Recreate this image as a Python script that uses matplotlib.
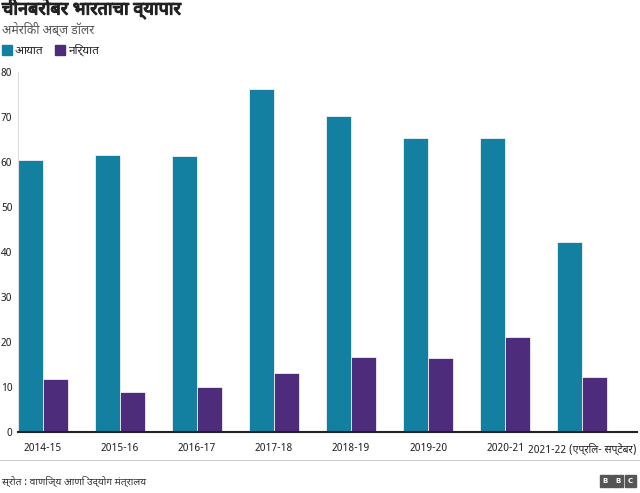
import numpy as np
import matplotlib.pyplot as plt
import matplotlib.patheffects as pe
from matplotlib import font_manager

# data
years = ["2014-15", "2015-16", "2016-17", "2017-18", "2018-19",
         "2019-20", "2020-21", "2021-22 (एप्रिल- सप्टेंबर)"]
imports = [60.4, 61.6, 61.3, 76.2, 70.2, 65.3, 65.3, 42.2]
exports = [11.8, 8.9, 10.0, 13.1, 16.7, 16.4, 21.1, 12.2]

title = "चीनबरोबर भारताचा व्यापार"
subtitle = "अमेरिकी अब्ज डॉलर"
legend_labels = ["आयात", "निर्यात"]
source = "स्रोत : वाणिज्य आणि उद्योग मंत्रालय"

c_imp = "#1380A1"
c_exp = "#4D2C7C"

# pick a font with Devanagari if there is one
names = {f.name for f in font_manager.fontManager.ttflist}
fams = [n for n in ["Noto Sans Devanagari", "Lohit Devanagari", "Mukta",
                    "Noto Sans", "DejaVu Sans"] if n in names]
plt.rcParams['font.family'] = fams

fig = plt.figure(figsize=(6.4, 4.93), dpi=100)
ax = fig.add_axes([0.028, 0.124, 0.967, 0.730])

x = np.arange(len(years))
w = 0.32
ax.bar(x - w / 2, imports, w, color=c_imp, edgecolor="white", linewidth=0.5)
ax.bar(x + w / 2, exports, w, color=c_exp, edgecolor="white", linewidth=0.5)

ax.set_xlim(-0.325, len(years) - 1 + 0.71)
ax.set_ylim(0, 80)
ax.set_yticks(np.arange(0, 81, 10))
ax.set_xticks(x)
ax.set_xticklabels(years)
ax.tick_params(axis='both', length=0, labelsize=7.5, colors="#222222")
ax.tick_params(axis='y', pad=4)
ax.tick_params(axis='x', pad=8)

for s in ["top", "right"]:
    ax.spines[s].set_visible(False)
ax.spines["left"].set_color("#dddddd")
ax.spines["left"].set_linewidth(0.8)
ax.spines["bottom"].set_color("#222222")
ax.spines["bottom"].set_linewidth(1.5)

# header (stroke to fake a bold weight)
fig.text(0.003, 0.982, title, fontsize=13, fontweight="bold", va="center", ha="left",
         color="#222222", path_effects=[pe.withStroke(linewidth=0.9, foreground="#222222")])
fig.text(0.003, 0.941, subtitle, fontsize=8.8, va="center", ha="left", color="#555555")

# legend
fig.patches.append(plt.Rectangle((0.003, 0.888), 0.015, 0.02, transform=fig.transFigure, color=c_imp))
fig.text(0.023, 0.898, legend_labels[0], fontsize=8.5, va="center", ha="left", color="#222222")
fig.patches.append(plt.Rectangle((0.086, 0.888), 0.015, 0.02, transform=fig.transFigure, color=c_exp))
fig.text(0.107, 0.898, legend_labels[1], fontsize=8.5, va="center", ha="left", color="#222222")

# footer
fig.add_artist(plt.Line2D([0, 1], [0.066, 0.066], transform=fig.transFigure, color="#cccccc", linewidth=0.8))
fig.text(0.003, 0.022, source, fontsize=7.3, va="center", ha="left", color="#333333")
for i, ch in enumerate("BBC"):
    fig.patches.append(plt.Rectangle((0.937 + i * 0.0195, 0.013), 0.017, 0.023,
                                     transform=fig.transFigure, color="#555555"))
    fig.text(0.9455 + i * 0.0195, 0.0245, ch, fontsize=5, fontweight="bold", color="white",
             ha="center", va="center", family="DejaVu Sans")

fig.savefig("out.png", dpi=100)
